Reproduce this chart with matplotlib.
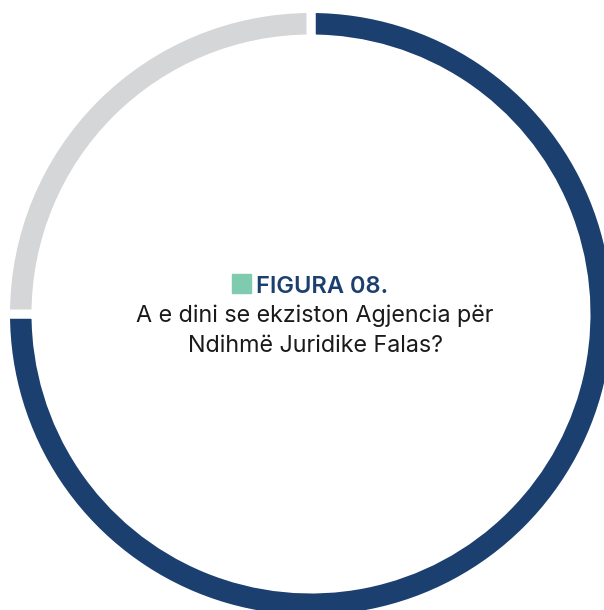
import matplotlib
matplotlib.use('Agg')
from matplotlib import pyplot as plt
from matplotlib.patches import Rectangle

# share of answers
labels = ['Po', 'Jo']
values = [75, 25]
colors = ['#1b3f6f', '#d5d6d8']

title = 'FIGURA 08.'
question = ['A e dini se ekziston Agjencia për', 'Ndihmë Juridike Falas?']

W, H = 604, 610
fig = plt.figure(figsize=(W / 100, H / 100), dpi=100)

# donut centre and radius in pixels (from top-left)
cx, cy, r = 311, 314, 301
ax = fig.add_axes([(cx - r) / W, (H - cy - r) / H, 2 * r / W, 2 * r / H])

gap = 9  # px of white between slices
ax.pie(values, colors=colors, startangle=90, counterclock=False,
       radius=1 + gap / 2 / r,
       wedgeprops=dict(width=(26 + gap / 2) / r, edgecolor='white',
                       linewidth=gap * 72 / 100))
ax.set_xlim(-1, 1)
ax.set_ylim(-1, 1)
ax.axis('off')

# title with green square
fig.patches.append(Rectangle((232 / W, (H - 293) / H), 19 / W, 19 / H,
                             transform=fig.transFigure, color='#7fcbb0'))
fig.text(256 / W, (H - 293) / H, title, ha='left', va='baseline',
         fontsize=17, fontweight='semibold', color='#1b3f6f', family='Inter')
for i, line in enumerate(question):
    fig.text(315 / W, (H - 322 - 30 * i) / H, line, ha='center', va='baseline',
             fontsize=16.8, color='#1a1a1a', family='Inter')

fig.savefig('out.png', dpi=100)
